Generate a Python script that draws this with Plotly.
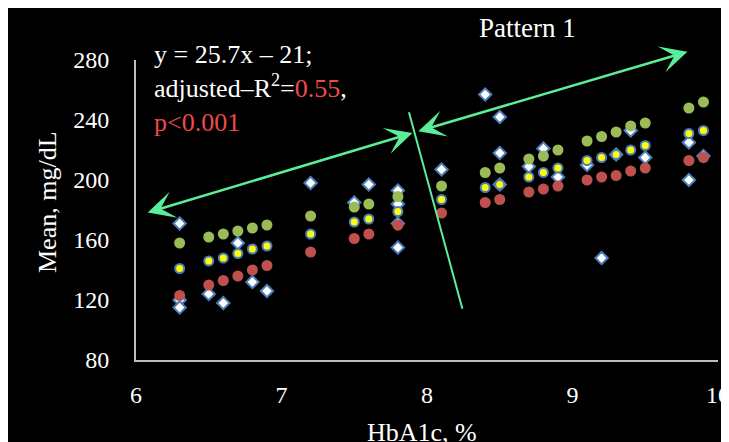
import plotly.graph_objects as go

# ---- data ----
hba1c = [6.3, 6.5, 6.6, 6.7, 6.8, 6.9, 7.2, 7.5, 7.6, 7.8, 8.1, 8.4, 8.5, 8.7, 8.8, 8.9,
         9.1, 9.2, 9.3, 9.4, 9.5, 9.8, 9.9]
green_vals = [158, 162, 164, 166, 168, 170, 176, 182, 184, 189, 196, 205, 208, 214, 216, 220,
              226, 229, 232, 236, 238, 248, 252]
yellow_vals = [141, 146, 148, 151, 154, 156, 164, 172, 174, 179, 187, 195, 197, 202, 205, 208,
               213, 215, 217, 220, 223, 231, 233]
red_vals = [123, 130, 133, 136, 140, 143, 152, 161, 164, 170, 178, 185, 187, 192, 194, 196,
            200, 202, 203, 206, 208, 213, 215]

diamond_x = [6.3, 6.3, 6.3, 6.5, 6.6, 6.7, 6.8, 6.9, 7.2, 7.5, 7.6, 7.8, 7.8, 7.8, 7.8, 8.1,
             8.4, 8.5, 8.5, 8.5, 8.7, 8.8, 8.9, 9.1, 9.2, 9.3, 9.4, 9.5, 9.8, 9.8, 9.9]
diamond_y = [171, 120, 115, 124, 118, 158, 132, 126, 198, 185, 197, 193, 184, 171, 155, 207,
             257, 242, 218, 197, 209, 221, 202, 210, 148, 217, 233, 215, 225, 200, 216]

x_ticks = [6, 7, 8, 9, 10]
y_ticks = [80, 120, 160, 200, 240, 280]

# annotation geometry (data coordinates)
arrow_left = ((6.07, 178), (7.90, 231.3))
arrow_right = ((7.93, 232.2), (9.79, 285.5))
divider = ((7.876, 245.1), (8.243, 114.2))

FONT = "Liberation Serif"
GREEN_LINE = "#5BEE98"
BLUE = "#4A7EBB"

fig = go.Figure()
fig.add_trace(go.Scatter(x=diamond_x, y=diamond_y, mode="markers",
                         marker=dict(symbol="diamond", size=9.5, color="white",
                                     line=dict(color=BLUE, width=2)),
                         showlegend=False))
fig.add_trace(go.Scatter(x=hba1c, y=green_vals, mode="markers",
                         marker=dict(symbol="circle", size=11, color="#9BBB59", line=dict(width=0)),
                         showlegend=False))
fig.add_trace(go.Scatter(x=hba1c, y=yellow_vals, mode="markers",
                         marker=dict(symbol="circle", size=9, color="#FFFF00",
                                     line=dict(color=BLUE, width=2)),
                         showlegend=False))
fig.add_trace(go.Scatter(x=hba1c, y=red_vals, mode="markers",
                         marker=dict(symbol="circle", size=11, color="#C0504D", line=dict(width=0)),
                         showlegend=False))

for (p0, p1) in (arrow_left, arrow_right):
    fig.add_annotation(x=p1[0], y=p1[1], ax=p0[0], ay=p0[1], xref="x", yref="y",
                       axref="x", ayref="y", text="", showarrow=True,
                       arrowside="end+start", arrowhead=3, startarrowhead=3,
                       arrowsize=1.8, startarrowsize=1.8, arrowwidth=2.5,
                       arrowcolor=GREEN_LINE, standoff=0, startstandoff=0)

fig.add_shape(type="line", x0=divider[0][0], y0=divider[0][1], x1=divider[1][0], y1=divider[1][1],
              xref="x", yref="y", line=dict(color=GREEN_LINE, width=2))

RED_TXT = "#F04A4A"
fig.add_annotation(
    xref="paper", yref="paper", x=0.028, y=1.075, xanchor="left", yanchor="top", align="left",
    showarrow=False,
    text=("y = 25.7x – 21;<br>adjusted–R<sup>2</sup>=<span style='color:%s'>0.55</span>,<br>"
          "<span style='color:%s'>p&lt;0.001</span>") % (RED_TXT, RED_TXT),
    font=dict(family=FONT, size=26, color="white"))

fig.add_annotation(xref="paper", yref="paper", x=0.672, y=1.107, xanchor="center", yanchor="middle",
                   showarrow=False, text="Pattern 1", font=dict(family=FONT, size=27, color="white"))

fig.add_annotation(xref="paper", yref="paper", x=0.491, y=-0.24, xanchor="center", yanchor="middle",
                   showarrow=False, text="HbA1c, %", font=dict(family=FONT, size=26, color="white"))
fig.add_annotation(xref="paper", yref="paper", x=-0.151, y=0.527, xanchor="center", yanchor="middle",
                   showarrow=False, text="Mean, mg/dL", textangle=-90,
                   font=dict(family=FONT, size=26, color="white"))

axis_common = dict(showgrid=False, zeroline=False, showline=True, linecolor="#BFBFBF", linewidth=2,
                   ticks="", tickfont=dict(family=FONT, size=24, color="white"),
                   ticklabeloverflow="allow", automargin=False)
fig.update_xaxes(range=[6, 10], tickvals=x_ticks, ticklabelstandoff=12, **axis_common)
fig.update_yaxes(range=[80, 280], tickvals=y_ticks, ticklabelstandoff=20, **axis_common)

# the page body adds an 8px offset; size/margins compensate so the plot area
# lands at x 136-718, y 60-360 in the 729x442 window
fig.update_layout(width=721, height=434, margin=dict(l=128, r=11, t=52, b=82, autoexpand=False),
                  paper_bgcolor="black", plot_bgcolor="black", showlegend=False)

fig.write_html("out.html")
